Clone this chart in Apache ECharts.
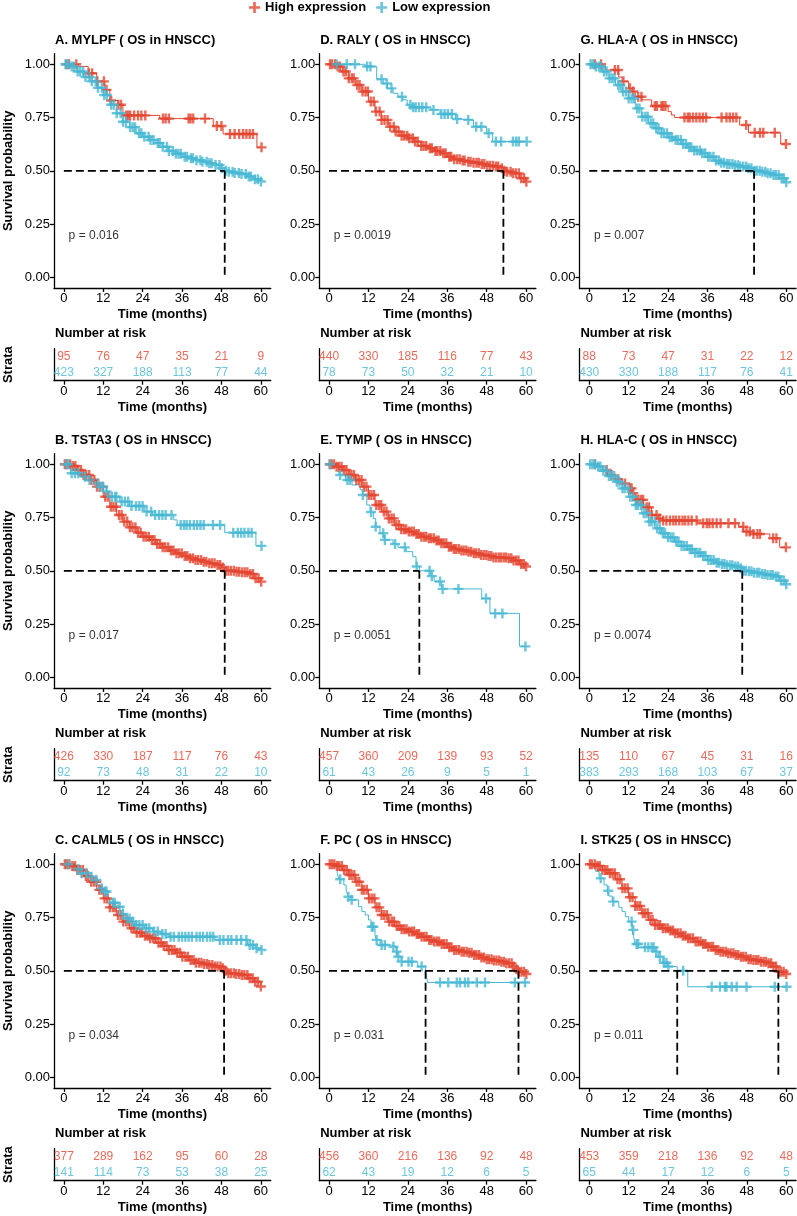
<!DOCTYPE html>
<html><head><meta charset="utf-8">
<script src="https://cdn.jsdelivr.net/npm/echarts@6/dist/echarts.min.js"></script>
<style>html,body{margin:0;padding:0;background:#fff}#c{width:797px;height:1216px}</style>
</head><body><div id="c"></div>
<script>
// ---------- DATA ----------
const timeTicks = [0, 12, 24, 36, 48, 60];
const survTicks = [0, 0.25, 0.5, 0.75, 1];
const groupNames = ['High expression', 'Low expression'];
const panelTitles = ['A. MYLPF ( OS in HNSCC)', 'B. TSTA3 ( OS in HNSCC)', 'C. CALML5 ( OS in HNSCC)',
  'D. RALY ( OS in HNSCC)', 'E. TYMP ( OS in HNSCC)', 'F. PC ( OS in HNSCC)',
  'G. HLA-A ( OS in HNSCC)', 'H. HLA-C ( OS in HNSCC)', 'I. STK25 ( OS in HNSCC)'];
const pValues = ['0.016', '0.017', '0.034', '0.0019', '0.0051', '0.031', '0.007', '0.0074', '0.011'];
const medianTimes = [[49.0], [49.0], [48.8], [53.1], [27.5], [29.4, 57.7], [50.2], [46.6], [26.8, 57.6]];
const riskHigh = [[95,76,47,35,21,9],[426,330,187,117,76,43],[377,289,162,95,60,28],
  [440,330,185,116,77,43],[457,360,209,139,93,52],[456,360,216,136,92,48],
  [88,73,47,31,22,12],[135,110,67,45,31,16],[453,359,218,136,92,48]];
const riskLow = [[423,327,188,113,77,44],[92,73,48,31,22,10],[141,114,73,53,38,25],
  [78,73,50,32,21,10],[61,43,26,9,5,1],[62,43,19,12,6,5],
  [430,330,188,117,76,41],[383,293,168,103,67,37],[65,44,17,12,6,5]];

// Panel A (MYLPF)
const A_high_curve = [[0,1],[4.5,0.99],[7.4,0.958],[10,0.92],[12.5,0.88],[14,0.83],[16.5,0.81],[18,0.76],[29.2,0.745],[45.5,0.71],[48.5,0.673],[58.8,0.61],[60.2,0.61]];
const A_high_cens = [0.8,1.6,3.8,7.6,8.6,10.2,12.2,13,14.4,16.6,17.4,19,19.6,20.2,21.4,22.6,23.6,24.8,30.2,31,32,38,38.6,39.4,43,46.6,48,50.6,52,53.4,54.6,55.6,56.6,57.6,60.2];
const A_low_curve = [[0,1],[2,0.99],[4,0.966],[6,0.94],[8,0.92],[10,0.89],[12,0.856],[14,0.81],[16,0.77],[18,0.73],[20,0.705],[22,0.676],[24,0.66],[26,0.645],[28,0.63],[30,0.613],[32,0.593],[34,0.58],[36,0.566],[38,0.559],[40,0.55],[42,0.543],[44,0.535],[46,0.527],[48,0.512],[49,0.5],[50,0.496],[52,0.49],[54,0.485],[56,0.473],[58,0.46],[60,0.45]];
const A_low_cens = [0.5,1.3,2.4,3.1,4.2,5.0,5.9,6.6,7.8,8.5,9.7,10.4,11.6,12.3,13.1,14.4,15.2,16.1,17.3,18.0,18.9,20.2,21.0,21.7,22.9,23.6,24.5,25.8,26.4,27.3,28.6,29.2,30.1,31.4,32.0,33.2,34.1,34.9,35.6,36.8,37.5,38.7,39.3,40.4,41.6,42.2,43.5,44.3,45.0,46.2,47.4,48.1,49.3,50.2,51.4,52.0,53.3,54.1,55.4,56.3,57.0,58.2,59.1,60.0];

// Panel B (TSTA3)
const B_high_curve = [[0,1],[2,0.992],[4,0.973],[6,0.95],[8,0.926],[10,0.895],[12,0.848],[14,0.801],[16,0.762],[18,0.731],[20,0.704],[22,0.679],[24,0.66],[26,0.645],[28,0.626],[30,0.61],[32,0.595],[34,0.582],[36,0.57],[38,0.559],[40,0.551],[42,0.543],[44,0.535],[46,0.527],[48,0.515],[49,0.5],[52,0.496],[54,0.493],[56,0.485],[58,0.465],[60,0.449]];
const B_high_cens = [0.3,1.0,1.9,2.7,3.5,4.3,5.2,6.0,6.8,7.7,8.4,9.3,10.1,10.9,11.8,12.6,13.4,14.3,15.1,15.9,16.8,17.6,18.4,19.3,20.1,20.9,21.8,22.6,23.4,24.3,25.1,25.9,26.8,27.6,28.4,29.3,30.1,30.9,31.8,32.6,33.4,34.3,35.1,35.9,36.8,37.6,38.4,39.3,40.1,40.9,41.8,42.6,43.4,44.3,45.1,45.9,46.8,47.6,48.4,49.3,50.1,50.9,51.8,52.6,53.4,54.3,55.1,55.9,56.8,57.6,58.4,59.3,60.1];
const B_low_curve = [[0,1],[2,0.958],[5,0.942],[6.5,0.926],[9,0.911],[10.5,0.895],[13,0.872],[14,0.848],[17,0.825],[20,0.804],[24.5,0.778],[27,0.762],[33.5,0.739],[34.5,0.715],[49,0.679],[58.5,0.617],[60.2,0.617]];
const B_low_cens = [0.8,1.3,2.4,3.4,4.4,6.4,7.8,10.4,11,12,13,14.6,15.6,16,17.6,18.6,19.6,20.6,22,23,24,25.2,26.6,27.8,29,30,31,32.8,35.6,36.6,37.4,38.4,39.6,40.6,41.6,42.6,45.4,47.6,51.6,53,54,55,56.2,57.2,60.2];

// Panel C (CALML5)
const C_high_curve = [[0,1],[2,0.992],[4,0.973],[6,0.945],[8,0.918],[10,0.88],[12,0.84],[14,0.798],[16,0.762],[18,0.731],[20,0.7],[22,0.679],[24,0.664],[26,0.653],[28,0.632],[30,0.617],[32,0.598],[34,0.585],[36,0.566],[38,0.551],[40,0.538],[42,0.532],[44,0.527],[46,0.52],[48,0.512],[48.8,0.5],[50,0.488],[52,0.485],[54,0.48],[56,0.465],[58,0.449],[60,0.426]];
const C_high_cens = [0.3,0.9,1.7,2.6,3.4,4.1,5.0,5.8,6.7,7.4,8.3,9.1,9.9,10.8,11.5,12.4,13.2,14.0,14.9,15.6,16.5,17.3,18.1,19.0,19.7,20.6,21.4,22.2,23.1,23.8,24.7,25.5,26.3,27.2,27.9,28.8,29.6,30.4,31.3,32.0,32.9,33.7,34.5,35.4,36.1,37.0,37.8,38.6,39.5,40.2,41.1,41.9,42.7,43.6,44.3,45.2,46.0,46.8,47.7,48.4,49.3,50.1,50.9,51.8,52.5,53.4,54.2,55.0,55.9,56.6,57.5,58.3,59.1,60.0];
const C_low_curve = [[0,1],[2,0.99],[3,0.977],[5,0.958],[7,0.942],[9,0.926],[10,0.903],[11,0.887],[12.5,0.872],[13.5,0.833],[15,0.82],[16.5,0.801],[18,0.767],[19,0.746],[20.5,0.731],[22,0.715],[24.5,0.7],[27,0.684],[29.5,0.673],[32,0.66],[46,0.645],[56,0.621],[58.5,0.606],[59.5,0.598],[60.2,0.598]];
const C_low_cens = [1.3,4.4,5.4,6.9,8.4,9.9,11.5,12.5,13,15,15.5,17,18,19.2,20,21,22,23,24,25,26,27.5,28.6,30,31,32.5,33.5,35,36,37,38,39,40.4,41.4,42.4,43.6,44.6,45.5,47.5,48.6,50,51,52.6,54,55.6,56.6,57.6,58.7,60.2];

// Panel D (RALY)
const D_high_curve = [[0,1],[2,0.99],[4,0.966],[6,0.934],[8,0.903],[10,0.872],[12,0.825],[14,0.778],[16,0.739],[18,0.707],[20,0.684],[22,0.665],[24,0.653],[26,0.637],[28,0.617],[30,0.606],[32,0.593],[34,0.582],[36,0.566],[38,0.554],[40,0.548],[42,0.543],[44,0.538],[46,0.532],[48,0.524],[50,0.52],[52,0.512],[53.1,0.5],[54,0.496],[56,0.488],[58,0.465],[60,0.449]];
const D_high_cens = [0.3,0.9,1.8,2.6,3.3,4.4,5.1,6.0,6.9,7.5,8.6,9.3,10.2,11.1,11.8,12.7,13.6,14.3,15.4,16.0,16.9,17.8,18.6,19.7,20.3,21.2,22.1,22.9,23.8,24.4,25.5,26.2,27.0,28.1,28.8,29.6,30.7,31.3,32.4,33.0,33.9,34.8,35.5,36.6,37.2,38.1,39.0,39.8,40.7,41.3,42.4,43.1,44.0,44.9,45.6,46.5,47.3,48.2,49.0,49.9,50.8,51.5,52.6,53.4,54.2,55.3,56.0,56.9,57.8,58.5,59.4,60.1];
const D_low_curve = [[0,1],[11,0.99],[14.5,0.93],[16.5,0.91],[17.8,0.887],[19.5,0.864],[21,0.848],[22.5,0.833],[23.8,0.81],[25,0.798],[31,0.786],[33.8,0.767],[38.5,0.743],[40,0.739],[44,0.707],[48,0.676],[49.8,0.637],[60.2,0.637]];
const D_low_cens = [2.3,5.4,7.9,11.6,12.6,16,17.6,19,22.2,24.8,25.6,26.4,27.4,28.4,29.6,31.8,34.2,35.2,36.2,37.4,39,42.4,44.8,46.4,48.6,50.8,52.4,56,57,57.8,60.2];

// Panel E (TYMP)
const E_high_curve = [[0,1],[2,0.989],[4,0.973],[6,0.95],[8,0.926],[10,0.895],[12,0.856],[14,0.809],[16,0.778],[18,0.746],[20,0.715],[22,0.695],[24,0.684],[26,0.673],[28,0.66],[30,0.653],[32,0.642],[34,0.629],[36,0.613],[38,0.602],[40,0.595],[42,0.59],[44,0.582],[46,0.574],[48,0.57],[50,0.563],[52,0.562],[54,0.559],[56,0.548],[58,0.532],[60,0.52]];
const E_high_cens = [0.2,0.8,1.5,2.3,3.0,3.8,4.5,5.3,6.1,6.8,7.6,8.3,9.1,9.9,10.6,11.4,12.1,12.9,13.7,14.4,15.2,15.9,16.7,17.5,18.2,19.0,19.7,20.5,21.3,22.0,22.8,23.5,24.3,25.1,25.8,26.6,27.3,28.1,28.9,29.6,30.4,31.1,31.9,32.7,33.4,34.2,34.9,35.7,36.5,37.2,38.0,38.7,39.5,40.3,41.0,41.8,42.5,43.3,44.1,44.8,45.6,46.3,47.1,47.9,48.6,49.4,50.1,50.9,51.7,52.4,53.2,53.9,54.7,55.5,56.2,57.0,57.7,58.5,59.3,60.0];
const E_low_curve = [[0,1],[1.5,0.99],[3,0.95],[5,0.926],[7,0.903],[9.5,0.88],[10.2,0.856],[11.5,0.809],[12.5,0.776],[13.5,0.746],[14.2,0.707],[15.5,0.676],[16.8,0.645],[19.5,0.626],[21,0.61],[23.5,0.59],[25.5,0.566],[26.5,0.52],[27.5,0.5],[31,0.475],[32,0.45],[34.3,0.415],[46.5,0.37],[49,0.3],[58,0.145],[60.2,0.145]];
const E_low_cens = [0.3,3.4,5.6,6.4,10.3,12.8,14.2,16.5,17,20.1,23.1,26.7,30.6,31.3,33.8,34.6,39.4,47.8,50.6,52.8,59.8];

// Panel F (PC)
const F_high_curve = [[0,1],[2,0.992],[4,0.973],[6,0.95],[8,0.918],[10,0.88],[12,0.84],[14,0.798],[16,0.762],[18,0.731],[20,0.71],[22,0.695],[24,0.684],[26,0.673],[28,0.66],[30,0.645],[32,0.637],[34,0.626],[36,0.61],[38,0.598],[40,0.59],[42,0.585],[44,0.574],[46,0.563],[48,0.554],[50,0.548],[52,0.543],[54,0.535],[56,0.52],[57,0.507],[57.7,0.496],[60,0.485]];
const F_high_cens = [0.2,0.9,1.6,2.4,3.1,3.9,4.6,5.4,6.2,6.9,7.7,8.4,9.2,10.0,10.7,11.5,12.2,13.0,13.8,14.5,15.3,16.0,16.8,17.6,18.3,19.1,19.8,20.6,21.4,22.1,22.9,23.6,24.4,25.2,25.9,26.7,27.4,28.2,29.0,29.7,30.5,31.2,32.0,32.8,33.5,34.3,35.0,35.8,36.6,37.3,38.1,38.8,39.6,40.4,41.1,41.9,42.6,43.4,44.2,44.9,45.7,46.4,47.2,48.0,48.7,49.5,50.2,51.0,51.8,52.5,53.3,54.0,54.8,55.6,56.3,57.1,57.8,58.6,59.4,60.1];
const F_low_curve = [[0,1],[1.5,0.99],[2.5,0.958],[3,0.93],[4.5,0.903],[5.2,0.88],[5.8,0.848],[6.8,0.833],[9,0.801],[10,0.778],[11,0.762],[12,0.739],[12.8,0.707],[14,0.668],[14.4,0.645],[15.5,0.621],[19,0.613],[20.5,0.59],[21,0.566],[22,0.543],[27,0.52],[29.4,0.5],[30,0.445],[60.2,0.445]];
const F_low_cens = [3.4,5.9,6.9,13,13.5,14.5,16,17,19.6,20.6,21.1,22.1,24.2,25.2,28.2,33.8,36.3,38.9,39.9,41.4,42.4,45,47.5,56.6,59.7];

// Panel G (HLA-A)
const G_high_curve = [[0,1],[4,0.99],[5,0.973],[9,0.94],[10,0.92],[12,0.887],[13,0.872],[14,0.848],[16,0.833],[19,0.804],[24,0.778],[25,0.762],[26,0.75],[45.8,0.715],[48.5,0.679],[58.3,0.626],[59.9,0.626]];
const G_high_cens = [1.7,3.6,7.8,8.8,10.4,12.4,13.4,14.9,15.9,20,20.6,22,22.5,23.2,29,30,30.6,31.6,32.6,33.6,34.6,35.6,40.3,41.8,42.8,43.8,44.8,47.8,50.4,52,53,56.5,59.9];
const G_low_curve = [[0,1],[2,0.99],[4,0.966],[6,0.934],[8,0.903],[10,0.872],[12,0.84],[14,0.793],[16,0.754],[18,0.723],[20,0.7],[22,0.676],[24,0.657],[26,0.645],[28,0.626],[30,0.61],[32,0.595],[34,0.582],[36,0.566],[38,0.548],[40,0.538],[42,0.532],[44,0.526],[46,0.52],[48,0.512],[50.2,0.5],[52,0.495],[54,0.488],[56,0.48],[58,0.465],[60,0.446]];
const G_low_cens = [0.4,1.1,2.0,2.9,3.6,4.5,5.3,6.2,7.0,7.7,8.8,9.5,10.3,11.2,12.0,12.9,13.7,14.6,15.3,16.2,17.1,17.8,18.7,19.5,20.4,21.1,22.0,22.8,23.7,24.5,25.2,26.3,27.0,27.9,28.6,29.5,30.4,31.1,32.0,32.8,33.7,34.4,35.3,36.2,36.9,37.8,38.6,39.5,40.2,41.1,42.0,42.7,43.6,44.4,45.3,46.0,46.9,47.8,48.5,49.4,50.3,51.0,51.9,52.7,53.6,54.3,55.2,56.1,56.8,57.7,58.6,59.3,60.0];

// Panel H (HLA-C)
const H_high_curve = [[0,1],[2,0.99],[4,0.973],[5.5,0.95],[8,0.93],[10,0.91],[11,0.887],[13,0.864],[14,0.833],[16.5,0.798],[19,0.762],[21,0.746],[22.5,0.736],[33,0.723],[45.5,0.707],[47,0.684],[50,0.673],[55,0.653],[58,0.61],[59.9,0.61]];
const H_high_cens = [1.7,5.3,6.8,8.8,10.9,12.4,12.9,13.4,14.4,15,15.8,16.4,17.5,18.2,19,20.5,21.4,22.5,23.5,24.6,25.6,26.4,27.4,28.4,29.2,30.2,31.2,32.7,34.7,35.8,36.6,37.6,38.8,40,42.4,44.4,46.9,47.9,48.9,50,51.2,52,56,57,59.9];
const H_low_curve = [[0,1],[2,0.99],[4,0.97],[6,0.945],[8,0.918],[10,0.887],[12,0.848],[14,0.809],[16,0.77],[18,0.731],[20,0.7],[22,0.676],[24,0.657],[26,0.637],[28,0.617],[30,0.601],[32,0.585],[34,0.57],[36,0.551],[38,0.538],[40,0.532],[42,0.526],[44,0.52],[46,0.512],[46.6,0.5],[48,0.498],[50,0.491],[52,0.485],[54,0.48],[56,0.473],[58,0.454],[60,0.437]];
const H_low_cens = [0.3,1.0,1.8,2.7,3.4,4.3,5.1,6.0,6.7,7.6,8.4,9.2,10.1,10.8,11.7,12.5,13.3,14.2,14.9,15.8,16.6,17.4,18.3,19.0,19.9,20.7,21.5,22.4,23.1,24.0,24.8,25.6,26.5,27.2,28.1,28.9,29.7,30.6,31.3,32.2,33.0,33.8,34.7,35.4,36.3,37.1,37.9,38.8,39.5,40.4,41.2,42.0,42.9,43.6,44.5,45.3,46.1,47.0,47.7,48.6,49.4,50.2,51.1,51.8,52.7,53.5,54.3,55.2,55.9,56.8,57.6,58.4,59.3,60.0];

// Panel I (STK25)
const I_high_curve = [[0,1],[2,0.992],[4,0.973],[6,0.958],[8,0.93],[10,0.887],[12,0.845],[14,0.804],[16,0.77],[18,0.739],[20,0.715],[22,0.7],[24,0.689],[26,0.676],[28,0.664],[30,0.653],[32,0.637],[34,0.626],[36,0.613],[38,0.598],[40,0.59],[42,0.582],[44,0.574],[46,0.566],[48,0.554],[50,0.551],[52,0.543],[54,0.535],[56,0.52],[57,0.507],[57.6,0.496],[60,0.485]];
const I_high_cens = [0.2,0.8,1.7,2.5,3.2,4.0,4.8,5.5,6.3,7.1,7.8,8.6,9.4,10.1,10.9,11.7,12.4,13.2,14.0,14.7,15.5,16.3,17.0,17.8,18.6,19.3,20.1,20.9,21.6,22.4,23.2,23.9,24.7,25.5,26.2,27.0,27.8,28.5,29.3,30.1,30.8,31.6,32.4,33.1,33.9,34.7,35.4,36.2,37.0,37.7,38.5,39.3,40.0,40.8,41.6,42.3,43.1,43.9,44.6,45.4,46.2,46.9,47.7,48.5,49.2,50.0,50.8,51.5,52.3,53.1,53.8,54.6,55.4,56.1,56.9,57.7,58.4,59.2,60.0];
const I_low_curve = [[0,1],[1.5,0.99],[2,0.966],[3,0.934],[4.5,0.903],[5.5,0.876],[6,0.851],[7,0.825],[9,0.798],[10,0.778],[11,0.754],[12,0.731],[13,0.692],[13.5,0.66],[14,0.626],[15,0.61],[20,0.59],[21,0.566],[22.5,0.538],[24,0.52],[26.8,0.5],[30,0.425],[60.2,0.425]];
const I_low_cens = [3.5,5.8,7.3,12.9,13.4,14.4,14.9,17,18,19,19.6,20.4,21.5,22.7,23.5,24.1,28.6,37.3,39.8,41.3,41.8,43.4,44.9,47.9,56.5,60.1];

// ---------- BUILD ----------
const highCurves = [A_high_curve,B_high_curve,C_high_curve,D_high_curve,E_high_curve,F_high_curve,G_high_curve,H_high_curve,I_high_curve];
const highCens = [A_high_cens,B_high_cens,C_high_cens,D_high_cens,E_high_cens,F_high_cens,G_high_cens,H_high_cens,I_high_cens];
const lowCurves = [A_low_curve,B_low_curve,C_low_curve,D_low_curve,E_low_curve,F_low_curve,G_low_curve,H_low_curve,I_low_curve];
const lowCens = [A_low_cens,B_low_cens,C_low_cens,D_low_cens,E_low_cens,F_low_cens,G_low_cens,H_low_cens,I_low_cens];

const RED = '#E4452F', BLUE = '#46B8D3';
const FONT = '"Liberation Sans", Arial, Helvetica, sans-serif';
const PLUS = 'path://M3.8,0H6.2V3.8H10V6.2H6.2V10H3.8V6.2H0V3.8H3.8Z';
const colLeft = [54, 319.2, 579.4];
const gridW = 216.7;

function survAt(curve, t) {
  let v = curve[0][1];
  for (const p of curve) { if (p[0] <= t) v = p[1]; else break; }
  return v;
}

const grid = [], xAxis = [], yAxis = [], series = [], title = [];
const axisLineStyle = { color: '#000', width: 1.3 };
const tickLbl = { fontSize: 13, color: '#000', fontFamily: FONT };
const nameStyle = { fontSize: 13, fontWeight: 'bold', color: '#000', fontFamily: FONT };

for (let i = 0; i < 9; i++) {
  const col = Math.floor(i / 3), row = i % 3;
  const left = colLeft[col], dy = 400 * row;
  const gMain = grid.length;
  grid.push({ left: left, top: 53.65 + dy, width: gridW, height: 234.3 });
  grid.push({ left: left, top: 348.7 + dy, width: gridW, height: 32 });
  const ax = xAxis.length;
  xAxis.push({ type: 'value', gridIndex: gMain, min: -3, max: 63,
    axisLine: { show: true, onZero: false, lineStyle: axisLineStyle },
    axisTick: { show: true, length: 4, customValues: timeTicks, lineStyle: axisLineStyle },
    axisLabel: { customValues: timeTicks, margin: 4, ...tickLbl },
    splitLine: { show: false },
    name: 'Time (months)', nameLocation: 'middle', nameGap: 20, nameTextStyle: nameStyle });
  yAxis.push({ type: 'value', gridIndex: gMain, min: -0.05, max: 1.05,
    axisLine: { show: true, onZero: false, lineStyle: axisLineStyle },
    axisTick: { show: true, length: 4, customValues: survTicks, lineStyle: axisLineStyle },
    axisLabel: { customValues: survTicks, margin: 4, formatter: v => v.toFixed(2), ...tickLbl },
    splitLine: { show: false },
    name: col === 0 ? 'Survival probability' : '', nameLocation: 'middle', nameGap: 39, nameRotate: 90, nameTextStyle: nameStyle });
  xAxis.push({ type: 'value', gridIndex: gMain + 1, min: -3, max: 63,
    axisLine: { show: true, onZero: false, lineStyle: axisLineStyle },
    axisTick: { show: true, length: 4, customValues: timeTicks, lineStyle: axisLineStyle },
    axisLabel: { customValues: timeTicks, margin: 4, ...tickLbl },
    splitLine: { show: false },
    name: 'Time (months)', nameLocation: 'middle', nameGap: 20, nameTextStyle: nameStyle });
  yAxis.push({ type: 'category', gridIndex: gMain + 1, data: ['Low', 'High'],
    axisLine: { show: true, onZero: false, lineStyle: axisLineStyle },
    axisTick: { show: false }, axisLabel: { show: false }, splitLine: { show: false },
    name: col === 0 ? 'Strata' : '', nameLocation: 'middle', nameGap: 39, nameRotate: 90, nameTextStyle: nameStyle });

  title.push({ text: panelTitles[i], left: left + 1, top: 34 + dy, padding: 0, textStyle: nameStyle });
  title.push({ text: 'Number at risk', left: left + 1, top: 326.5 + dy, padding: 0, textStyle: nameStyle });

  const groups = [[highCurves[i], highCens[i], RED, groupNames[0]], [lowCurves[i], lowCens[i], BLUE, groupNames[1]]];
  groups.forEach(([curve, cens, color, nm]) => {
    series.push({ type: 'line', step: 'end', xAxisIndex: ax, yAxisIndex: ax, data: curve,
      showSymbol: false, symbol: 'none', lineStyle: { color: color, width: 1 }, silent: true, z: 2 });
  });
  groups.forEach(([curve, cens, color, nm]) => {
    series.push({ type: 'scatter', name: nm, xAxisIndex: ax, yAxisIndex: ax,
      data: cens.map(t => [t, survAt(curve, t)]), symbol: PLUS, symbolSize: 10,
      itemStyle: { color: color }, silent: true, z: 3 });
  });
  const meds = medianTimes[i];
  const maxMed = Math.max(...meds);
  const dash = { color: '#000', width: 1.8, type: [8, 4] };
  series.push({ type: 'line', xAxisIndex: ax, yAxisIndex: ax, data: [[0, 0.5], [maxMed, 0.5]],
    symbol: 'none', lineStyle: dash, silent: true, z: 4 });
  meds.forEach(m => series.push({ type: 'line', xAxisIndex: ax, yAxisIndex: ax, data: [[m, 0.5], [m, 0]],
    symbol: 'none', lineStyle: dash, silent: true, z: 4 }));
  series.push({ type: 'scatter', xAxisIndex: ax, yAxisIndex: ax, data: [[1.3, 0.194]], symbolSize: 1,
    itemStyle: { color: 'transparent' }, silent: true,
    label: { show: true, position: 'right', distance: 0, formatter: 'p = ' + pValues[i], fontSize: 12, color: '#000', fontFamily: FONT } });
  [[riskHigh[i], 1, RED], [riskLow[i], 0, BLUE]].forEach(([vals, cat, color]) => {
    series.push({ type: 'scatter', xAxisIndex: ax + 1, yAxisIndex: ax + 1,
      data: timeTicks.map((t, k) => [t, cat, vals[k]]), symbolSize: 1,
      itemStyle: { color: 'transparent' }, silent: true,
      label: { show: true, position: 'inside', formatter: p => String(p.value[2]), fontSize: 12, color: color, fontFamily: FONT } });
  });
}

const chart = echarts.init(document.getElementById('c'), null, { renderer: 'canvas' });
chart.setOption({
  animation: false,
  backgroundColor: '#fff',
  textStyle: { fontFamily: FONT },
  title: title,
  legend: { top: 1, left: 249, padding: 0, itemWidth: 11, itemHeight: 11, itemGap: 10, selectedMode: false,
    data: [{ name: groupNames[0], icon: PLUS }, { name: groupNames[1], icon: PLUS }],
    textStyle: { fontSize: 13, fontWeight: 'bold', color: '#000', fontFamily: FONT } },
  grid: grid, xAxis: xAxis, yAxis: yAxis, series: series
});
</script></body></html>
